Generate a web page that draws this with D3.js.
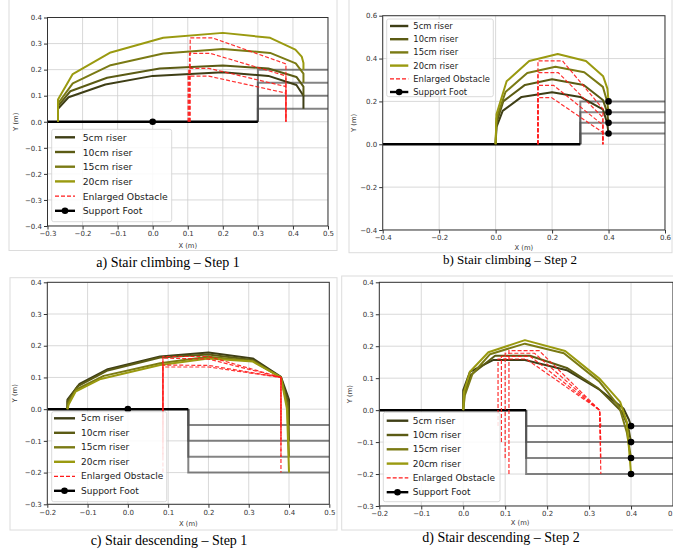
<!DOCTYPE html>
<html>
<head>
<meta charset="utf-8">
<script src="https://cdn.jsdelivr.net/npm/d3@7"></script>
<style>
  body { margin: 0; background: #fff; }
  svg { display: block; }
</style>
</head>
<body>
<svg id="fig" width="673" height="552"></svg>
<script>
// series labels and colours
const riserLabels = ["5cm riser", "10cm riser", "15cm riser", "20cm riser"];
const riserColors = ["#3e3e16", "#5b5b14", "#7a7a14", "#9a9a10"];
const riserHeights = [0.05, 0.1, 0.15, 0.2];

// a) climbing step 1
const climb1Swing = [
  [[-0.27, 0], [-0.27, 0.05], [-0.24, 0.094], [-0.135, 0.143], [0.0, 0.176], [0.2, 0.19], [0.33, 0.176], [0.41, 0.141], [0.43, 0.1], [0.43, 0.05]],
  [[-0.27, 0], [-0.27, 0.06], [-0.235, 0.117], [-0.13, 0.169], [0.02, 0.204], [0.2, 0.216], [0.33, 0.204], [0.41, 0.172], [0.43, 0.135], [0.43, 0.1]],
  [[-0.27, 0], [-0.27, 0.07], [-0.228, 0.147], [-0.12, 0.217], [0.03, 0.262], [0.2, 0.279], [0.335, 0.264], [0.408, 0.224], [0.43, 0.185], [0.43, 0.15]],
  [[-0.27, 0], [-0.27, 0.085], [-0.228, 0.183], [-0.12, 0.266], [0.03, 0.322], [0.2, 0.341], [0.335, 0.322], [0.407, 0.277], [0.425, 0.25], [0.43, 0.225], [0.43, 0.2]]
];
const climb1Obstacle = [
  [[0.101, 0], [0.101, 0.175], [0.16, 0.175], [0.38, 0.11], [0.38, 0]],
  [[0.103, 0], [0.103, 0.205], [0.16, 0.205], [0.38, 0.135], [0.38, 0]],
  [[0.105, 0], [0.105, 0.262], [0.165, 0.262], [0.38, 0.176], [0.38, 0]],
  [[0.107, 0], [0.107, 0.322], [0.17, 0.322], [0.38, 0.222], [0.38, 0]]
];
const climb1Feet = [[0, 0]];

// b) climbing step 2
const climb2Swing = [
  [[0, 0], [0.003, 0.08], [0.025, 0.156], [0.092, 0.221], [0.2, 0.243], [0.3, 0.221], [0.38, 0.163], [0.395, 0.1], [0.4, 0.05]],
  [[0, 0], [0.003, 0.1], [0.027, 0.2], [0.104, 0.277], [0.2, 0.303], [0.312, 0.277], [0.38, 0.207], [0.395, 0.15], [0.4, 0.1]],
  [[0, 0], [0.003, 0.12], [0.035, 0.244], [0.112, 0.333], [0.212, 0.362], [0.314, 0.336], [0.38, 0.268], [0.395, 0.2], [0.4, 0.15]],
  [[0, 0], [0.003, 0.14], [0.039, 0.294], [0.119, 0.389], [0.22, 0.421], [0.32, 0.389], [0.381, 0.317], [0.396, 0.26], [0.4, 0.2]]
];
const climb2Obstacle = [
  [[0.15, 0], [0.15, 0.218], [0.198, 0.218], [0.38, 0.055], [0.38, 0]],
  [[0.15, 0], [0.15, 0.275], [0.205, 0.275], [0.38, 0.09], [0.38, 0]],
  [[0.15, 0], [0.15, 0.334], [0.222, 0.334], [0.38, 0.125], [0.38, 0]],
  [[0.15, 0], [0.15, 0.389], [0.237, 0.389], [0.38, 0.165], [0.38, 0]]
];
const climb2Feet = [[0.4, 0.05], [0.4, 0.1], [0.4, 0.15], [0.4, 0.2]];

// c) descending step 1
const descend1Swing = [
  [[-0.15, 0], [-0.15, 0.03], [-0.12, 0.08], [-0.05, 0.126], [0.08, 0.166], [0.2, 0.179], [0.31, 0.16], [0.38, 0.102], [0.4, 0.03], [0.4, -0.05]],
  [[-0.15, 0], [-0.15, 0.025], [-0.125, 0.072], [-0.05, 0.122], [0.08, 0.163], [0.2, 0.172], [0.31, 0.155], [0.38, 0.1], [0.398, 0.02], [0.4, -0.1]],
  [[-0.15, 0], [-0.148, 0.02], [-0.128, 0.062], [-0.06, 0.105], [0.08, 0.145], [0.2, 0.165], [0.31, 0.152], [0.38, 0.1], [0.396, 0.01], [0.4, -0.15]],
  [[-0.15, 0], [-0.147, 0.015], [-0.13, 0.055], [-0.07, 0.094], [0.08, 0.139], [0.2, 0.16], [0.31, 0.15], [0.38, 0.1], [0.395, 0], [0.4, -0.2]]
];
const descend1Obstacle = [
  [[0.087, -0.05], [0.087, 0.166], [0.2, 0.166], [0.38, 0.1], [0.38, -0.05]],
  [[0.087, -0.1], [0.087, 0.161], [0.2, 0.158], [0.38, 0.1], [0.38, -0.1]],
  [[0.087, -0.15], [0.087, 0.139], [0.2, 0.138], [0.38, 0.1], [0.38, -0.15]],
  [[0.087, -0.2], [0.087, 0.133], [0.2, 0.133], [0.38, 0.1], [0.38, -0.2]]
];
const descend1Feet = [[0, 0]];

// d) descending step 2
const descend2Swing = [
  [[0, 0], [0, 0.063], [0.016, 0.12], [0.072, 0.157], [0.147, 0.157], [0.247, 0.125], [0.326, 0.063], [0.382, 0.005], [0.395, -0.03], [0.4, -0.05]],
  [[0, 0], [0.002, 0.05], [0.018, 0.11], [0.076, 0.17], [0.159, 0.17], [0.247, 0.132], [0.322, 0.068], [0.378, -0.005], [0.393, -0.05], [0.4, -0.1]],
  [[0, 0], [0.004, 0.047], [0.022, 0.113], [0.064, 0.175], [0.147, 0.208], [0.24, 0.178], [0.324, 0.09], [0.372, 0.01], [0.39, -0.07], [0.4, -0.15]],
  [[0, 0], [0.002, 0.058], [0.016, 0.12], [0.06, 0.181], [0.147, 0.219], [0.243, 0.185], [0.326, 0.097], [0.374, 0.026], [0.39, -0.037], [0.4, -0.2]]
];
const descend2Obstacle = [
  [[0.083, -0.05], [0.083, 0.16], [0.15, 0.16], [0.325, 0.0], [0.328, -0.05]],
  [[0.091, -0.1], [0.091, 0.168], [0.16, 0.168], [0.325, 0.0], [0.328, -0.1]],
  [[0.1, -0.15], [0.1, 0.178], [0.17, 0.178], [0.325, 0.0], [0.328, -0.15]],
  [[0.109, -0.2], [0.109, 0.186], [0.181, 0.186], [0.325, 0.0], [0.328, -0.2]]
];
const descend2Feet = [[0.4, -0.05], [0.4, -0.1], [0.4, -0.15], [0.4, -0.2]];

// tick values
const ticksA_x = [-0.3, -0.2, -0.1, 0.0, 0.1, 0.2, 0.3, 0.4, 0.5];
const ticksA_y = [-0.4, -0.3, -0.2, -0.1, 0.0, 0.1, 0.2, 0.3, 0.4];
const ticksB_x = [-0.4, -0.2, 0.0, 0.2, 0.4, 0.6];
const ticksB_y = [-0.4, -0.2, 0.0, 0.2, 0.4, 0.6];
const ticksCD_x = [-0.2, -0.1, 0.0, 0.1, 0.2, 0.3, 0.4, 0.5];
const ticksCD_y = [-0.3, -0.2, -0.1, 0.0, 0.1, 0.2, 0.3, 0.4];

const panels = [
  {
    caption: "a) Stair climbing – Step 1", capX: 168, capY: 267, capSize: 14,
    frame: [9, -2, 337, 250.5],
    left: 47.5, right: 328, top: 17.5, bottom: 226,
    xDomain: [-0.3, 0.5], yDomain: [-0.4, 0.4], xTicks: ticksA_x, yTicks: ticksA_y,
    swing: climb1Swing, obstacle: climb1Obstacle, feet: climb1Feet, edge: 0.3, dir: 1,
    legend: { x0: 51.7, y0: 129.3, x1: 171.7, y1: 221.7, row0: 137.3, gap: 14.7, l0: 55, l1: 75, tx: 82.7, fs: 9.3 },
    xLabY: 246, yLabX: 15.7
  },
  {
    caption: "b) Stair climbing – Step 2", capX: 510, capY: 264, capSize: 13,
    frame: [349, -2, 672, 252.7],
    left: 382.7, right: 665, top: 15.7, bottom: 230,
    xDomain: [-0.4, 0.6], yDomain: [-0.4, 0.6], xTicks: ticksB_x, yTicks: ticksB_y,
    swing: climb2Swing, obstacle: climb2Obstacle, feet: climb2Feet, edge: 0.3, dir: 1,
    legend: { x0: 386.7, y0: 19, x1: 493.3, y1: 96.7, row0: 26, gap: 13.2, l0: 390, l1: 408.3, tx: 413.3, fs: 8.4 },
    xLabY: 248, yLabX: 354
  },
  {
    caption: "c) Stair descending – Step 1", capX: 169, capY: 545, capSize: 14,
    frame: [10, 277.7, 337, 530],
    left: 47.3, right: 329.3, top: 282.3, bottom: 504.3,
    xDomain: [-0.2, 0.5], yDomain: [-0.3, 0.4], xTicks: ticksCD_x, yTicks: ticksCD_y,
    swing: descend1Swing, obstacle: descend1Obstacle, feet: descend1Feet, edge: 0.15, dir: -1,
    legend: { x0: 51.7, y0: 411.7, x1: 166.7, y1: 501.7, row0: 418.3, gap: 14.5, l0: 54, l1: 75, tx: 81, fs: 9 },
    xLabY: 524, yLabX: 14.7
  },
  {
    caption: "d) Stair descending – Step 2", capX: 501, capY: 541.5, capSize: 14,
    frame: [341.7, 276, 680, 530],
    left: 379.3, right: 673, top: 282.3, bottom: 506,
    xDomain: [-0.2, 0.5], yDomain: [-0.3, 0.4], xTicks: ticksCD_x, yTicks: ticksCD_y,
    swing: descend2Swing, obstacle: descend2Obstacle, feet: descend2Feet, edge: 0.15, dir: -1,
    legend: { x0: 383.3, y0: 412.3, x1: 500, y1: 501.7, row0: 420.7, gap: 14.3, l0: 386.7, l1: 408.3, tx: 412.7, fs: 9 },
    xLabY: 523.5, yLabX: 350
  }
];

const svg = d3.select("#fig");
const tickFont = "'DejaVu Sans', sans-serif";
const fmt = d3.format(".1f");

const drawPanel = (p, idx) => {
  const x = d3.scaleLinear().domain(p.xDomain).range([p.left, p.right]);
  const y = d3.scaleLinear().domain(p.yDomain).range([p.bottom, p.top]);
  const line = d3.line().x((d) => x(d[0])).y((d) => y(d[1]));

  // outer frame of the sub figure
  svg.append("rect")
    .attr("x", p.frame[0]).attr("y", p.frame[1])
    .attr("width", p.frame[2] - p.frame[0]).attr("height", p.frame[3] - p.frame[1])
    .attr("fill", "none").attr("stroke", "#dcdcdc").attr("stroke-width", 1);

  svg.append("clipPath").attr("id", `clip${idx}`)
    .append("rect")
    .attr("x", p.left).attr("y", p.top)
    .attr("width", p.right - p.left).attr("height", p.bottom - p.top);

  const g = svg.append("g");
  const plot = g.append("g").attr("clip-path", `url(#clip${idx})`);

  // grid
  plot.selectAll(".gx").data(p.xTicks).join("line")
    .attr("x1", (d) => x(d)).attr("x2", (d) => x(d))
    .attr("y1", p.top).attr("y2", p.bottom)
    .attr("stroke", "#cfcfcf").attr("stroke-width", 0.8);
  plot.selectAll(".gy").data(p.yTicks).join("line")
    .attr("y1", (d) => y(d)).attr("y2", (d) => y(d))
    .attr("x1", p.left).attr("x2", p.right)
    .attr("stroke", "#cfcfcf").attr("stroke-width", 0.8);

  // stairs
  riserHeights.forEach((h) => {
    const pts = [[p.edge, 0], [p.edge, p.dir * h], [p.xDomain[1], p.dir * h]];
    plot.append("path").attr("d", line(pts))
      .attr("fill", "none").attr("stroke", "#505050")
      .attr("stroke-opacity", 0.7).attr("stroke-width", 2);
  });

  // ground under support foot
  plot.append("path").attr("d", line([[p.xDomain[0], 0], [p.edge, 0]]))
    .attr("fill", "none").attr("stroke", "#000").attr("stroke-width", 2.5);

  // swing foot trajectories
  p.swing.forEach((s, i) => {
    plot.append("path").attr("d", line(s))
      .attr("fill", "none").attr("stroke", riserColors[i])
      .attr("stroke-width", 2).attr("stroke-linejoin", "round");
  });

  // enlarged obstacles
  p.obstacle.forEach((s) => {
    plot.append("path").attr("d", line(s))
      .attr("fill", "none").attr("stroke", "#ff1a1a")
      .attr("stroke-opacity", 0.9)
      .attr("stroke-width", 1.2).attr("stroke-dasharray", "4,2");
  });

  // support foot points
  plot.selectAll(".foot").data(p.feet).join("circle")
    .attr("cx", (d) => x(d[0])).attr("cy", (d) => y(d[1]))
    .attr("r", 3.3).attr("fill", "#000");

  // spines
  g.append("rect")
    .attr("x", p.left).attr("y", p.top)
    .attr("width", p.right - p.left).attr("height", p.bottom - p.top)
    .attr("fill", "none").attr("stroke", "#333").attr("stroke-width", 1);

  const xAxis = g.append("g")
    .attr("transform", `translate(0,${p.bottom})`)
    .call(d3.axisBottom(x).tickValues(p.xTicks).tickFormat(fmt).tickSize(3.5).tickPadding(2));
  const yAxis = g.append("g")
    .attr("transform", `translate(${p.left},0)`)
    .call(d3.axisLeft(y).tickValues(p.yTicks).tickFormat(fmt).tickSize(3.5).tickPadding(2));
  [xAxis, yAxis].forEach((a) => {
    a.select(".domain").remove();
    a.selectAll("line").attr("stroke", "#333");
    a.selectAll("text").attr("fill", "#333")
      .style("font-family", tickFont).style("font-size", "7px");
  });

  g.append("text")
    .attr("x", (p.left + p.right) / 2 + (idx === 3 ? -6 : 0)).attr("y", p.xLabY)
    .attr("text-anchor", "middle").attr("dominant-baseline", "middle")
    .style("font-family", tickFont).style("font-size", "6.8px").attr("fill", "#333")
    .text("X (m)");
  g.append("text")
    .attr("transform", `translate(${p.yLabX},${(p.top + p.bottom) / 2}) rotate(-90)`)
    .attr("text-anchor", "middle").attr("dominant-baseline", "middle")
    .style("font-family", tickFont).style("font-size", "6.8px").attr("fill", "#333")
    .text("Y (m)");

  // legend
  const L = p.legend;
  const leg = g.append("g");
  leg.append("rect")
    .attr("x", L.x0).attr("y", L.y0)
    .attr("width", L.x1 - L.x0).attr("height", L.y1 - L.y0)
    .attr("rx", 2).attr("fill", "#fff").attr("fill-opacity", 0.85)
    .attr("stroke", "#d0d0d0").attr("stroke-width", 0.8);
  const entries = riserLabels.map((lab, i) => ({ lab, color: riserColors[i], kind: "solid" }))
    .concat([{ lab: "Enlarged Obstacle", color: "#ff1a1a", kind: "dash" },
             { lab: "Support Foot", color: "#000", kind: "dot" }]);
  entries.forEach((e, i) => {
    const ry = L.row0 + i * L.gap;
    leg.append("line")
      .attr("x1", L.l0).attr("x2", L.l1).attr("y1", ry).attr("y2", ry)
      .attr("stroke", e.color)
      .attr("stroke-width", e.kind === "dash" ? 1.3 : 2.4)
      .attr("stroke-dasharray", e.kind === "dash" ? "4,2" : null);
    if (e.kind === "dot") {
      leg.append("circle").attr("cx", (L.l0 + L.l1) / 2).attr("cy", ry)
        .attr("r", 3.3).attr("fill", "#000");
    }
    leg.append("text")
      .attr("x", L.tx).attr("y", ry)
      .attr("dominant-baseline", "central")
      .style("font-family", tickFont).style("font-size", `${L.fs}px`)
      .attr("fill", "#222")
      .text(e.lab);
  });

  // caption
  svg.append("text")
    .attr("x", p.capX).attr("y", p.capY)
    .attr("text-anchor", "middle")
    .style("font-family", "'Liberation Serif', 'Times New Roman', serif")
    .style("font-size", `${p.capSize}px`)
    .attr("fill", "#000")
    .text(p.caption);
};

panels.forEach(drawPanel);
</script>
</body>
</html>
